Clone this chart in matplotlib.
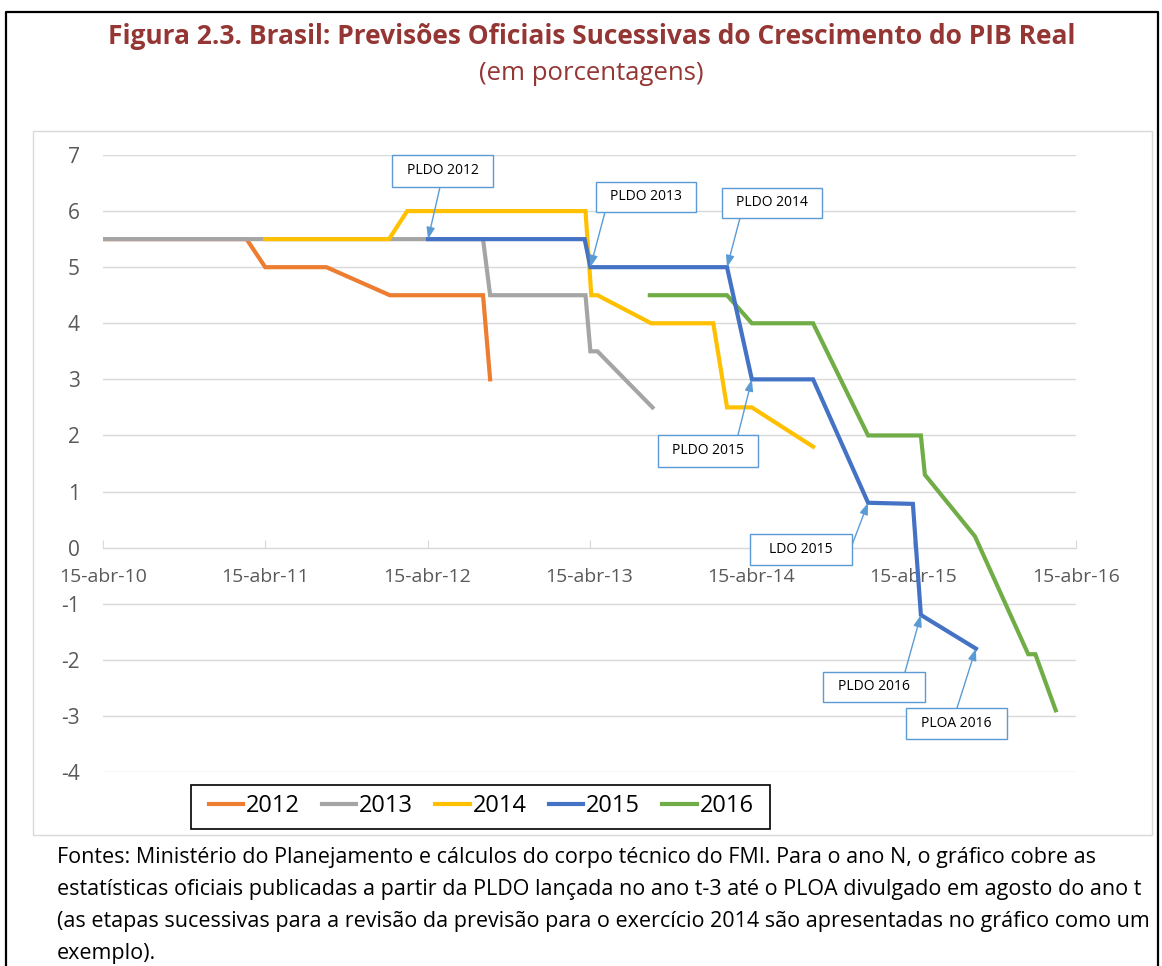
import numpy as np
import pandas as pd
import matplotlib
matplotlib.use('Agg')
import matplotlib.pyplot as plt
from matplotlib.patches import Rectangle
from matplotlib.lines import Line2D

plt.rcParams['font.family'] = ['Open Sans', 'DejaVu Sans']

W, H = 1162, 966

# successive official forecasts, one series per target year
d2012 = ['2010-04-15', '2011-03-04', '2011-04-15', '2011-08-31', '2012-01-21', '2012-08-18', '2012-09-03']
v2012 = [5.5, 5.5, 5.0, 5.0, 4.5, 4.5, 3.0]

d2013 = ['2010-04-15', '2012-08-18', '2012-09-03', '2013-04-06', '2013-04-17', '2013-05-03', '2013-09-04']
v2013 = [5.5, 5.5, 4.5, 4.5, 3.5, 3.5, 2.5]

d2014 = ['2011-04-15', '2012-01-19', '2012-02-29', '2013-04-06', '2013-04-19', '2013-05-03',
         '2013-09-01', '2014-01-19', '2014-02-19', '2014-04-16', '2014-09-01']
v2014 = [5.5, 5.5, 6.0, 6.0, 4.5, 4.5, 4.0, 4.0, 2.5, 2.5, 1.8]

d2015 = ['2012-04-16', '2013-04-04', '2013-04-17', '2014-02-19', '2014-04-16', '2014-09-01',
         '2015-01-03', '2015-04-14', '2015-05-02', '2015-09-03']
v2015 = [5.5, 5.5, 5.0, 5.0, 3.0, 3.0, 0.8, 0.78, -1.2, -1.8]

d2016 = ['2013-08-29', '2014-02-19', '2014-04-16', '2014-09-01', '2015-01-03', '2015-05-02',
         '2015-05-11', '2015-09-01', '2015-12-30', '2016-01-15', '2016-03-01']
v2016 = [4.5, 4.5, 4.0, 4.0, 2.0, 2.0, 1.3, 0.2, -1.9, -1.9, -2.9]

series = ['2012', '2013', '2014', '2015', '2016']
colors = ['#ED7D31', '#A5A5A5', '#FFC000', '#4472C4', '#70AD47']
zorders = [3, 4, 5, 7, 6]

tick_dates = ['2010-04-15', '2011-04-15', '2012-04-15', '2013-04-15', '2014-04-15', '2015-04-15', '2016-04-15']
tick_labels = ['15-abr-10', '15-abr-11', '15-abr-12', '15-abr-13', '15-abr-14', '15-abr-15', '15-abr-16']

# callouts on the 2015 series: label, index of the point it marks
ann_labels = ['PLDO 2012', 'PLDO 2013', 'PLDO 2014', 'PLDO 2015', 'LDO 2015', 'PLDO 2016', 'PLOA 2016']
ann_idx = [0, 2, 3, 4, 6, 8, 9]
# box (x0, y0, x1, y1) and arrow start, in image pixels from top-left
ann_box = [(392, 155, 493, 187), (596, 182, 696, 212), (722, 188, 822, 218), (658, 435, 758, 467),
           (750, 534, 852, 565), (823, 672, 925, 702), (906, 708, 1007, 739)]
ann_from = [(440, 187), (605, 212), (740, 218), (738, 435), (852, 545), (905, 672), (957, 708)]

dates = [d2012, d2013, d2014, d2015, d2016]
vals = [v2012, v2013, v2014, v2015, v2016]


def fx(px):
    return px / W


def fy(py):
    return 1 - py / H


fig = plt.figure(figsize=(W / 100, H / 100), dpi=100)

# outer frame and chart area
fig.add_artist(Line2D([fx(6), fx(6), fx(1158), fx(1158)], [0, fy(12), fy(12), 0],
                      color='black', lw=1.6, transform=fig.transFigure))
fig.add_artist(Rectangle((fx(33), fy(835)), fx(1152) - fx(33), fy(131) - fy(835),
                         transform=fig.transFigure, fill=False, ec='#D9D9D9', lw=1))

fig.text(fx(592), fy(36), 'Figura 2.3. Brasil: Previsões Oficiais Sucessivas do Crescimento do PIB Real',
         ha='center', va='center', fontsize=19, fontweight='bold', color='#943634')
fig.text(fx(591), fy(73), '(em porcentagens)', ha='center', va='center', fontsize=18.5, color='#943634')

ax = fig.add_axes([fx(103.3), fy(772), fx(1075.7) - fx(103.3), fy(155) - fy(772)])
ax.set_facecolor('none')

handles = []
for name, d, v, c, z in zip(series, dates, vals, colors, zorders):
    h, = ax.plot(pd.to_datetime(d), v, color=c, lw=3, solid_joinstyle='miter', zorder=z, label=name)
    handles.append(h)

ax.set_xlim(pd.Timestamp(tick_dates[0]), pd.Timestamp(tick_dates[-1]))
ax.set_ylim(-4, 7)
ax.set_yticks(range(-4, 8))
ax.set_yticklabels([str(i) for i in range(-4, 8)])
ax.set_xticks(pd.to_datetime(tick_dates))
ax.set_xticklabels(tick_labels)

ax.grid(axis='y', color='#D9D9D9', lw=1)
ax.grid(axis='x', visible=False)
for s in ['top', 'right', 'left']:
    ax.spines[s].set_visible(False)
ax.spines['bottom'].set_position(('data', 0))
ax.spines['bottom'].set_color('#D9D9D9')
ax.tick_params(axis='x', direction='in', length=6, color='#D9D9D9', pad=15,
               labelsize=14, labelcolor='#595959')
ax.tick_params(axis='y', length=0, pad=17, labelsize=15, labelcolor='#595959')

# callout boxes with arrows
for lab, i, box, src in zip(ann_labels, ann_idx, ann_box, ann_from):
    x0, y0, x1, y1 = box
    fig.add_artist(Rectangle((fx(x0), fy(y1)), fx(x1) - fx(x0), fy(y0) - fy(y1),
                             transform=fig.transFigure, fc='white', ec='#5B9BD5', lw=1, zorder=10))
    fig.text(fx((x0 + x1) / 2), fy((y0 + y1) / 2), lab, ha='center', va='center',
             fontsize=10, color='black', zorder=11)
    ax.annotate('', xy=(pd.Timestamp(d2015[i]), v2015[i]), xycoords='data',
                xytext=(fx(src[0]), fy(src[1])), textcoords='figure fraction',
                arrowprops=dict(arrowstyle='-|>,head_length=0.7,head_width=0.25', color='#5B9BD5',
                                lw=1, shrinkA=0, shrinkB=0), zorder=12, annotation_clip=False)

# legend: frame drawn separately so its padding matches
fig.add_artist(Rectangle((fx(191), fy(829)), fx(770) - fx(191), fy(785) - fy(829),
                         transform=fig.transFigure, fc='white', ec='black', lw=1.2, zorder=8))
leg = fig.legend(handles=handles, loc='center', bbox_to_anchor=(fx(481), fy(806)), ncol=5,
                 fontsize=17, frameon=False, handlelength=1.45, handletextpad=0.12,
                 columnspacing=0.95, borderpad=0.2)
leg.set_zorder(9)

note = ['Fontes: Ministério do Planejamento e cálculos do corpo técnico do FMI. Para o ano N, o gráfico cobre as',
        'estatísticas oficiais publicadas a partir da PLDO lançada no ano t-3 até o PLOA divulgado em agosto do ano t',
        '(as etapas sucessivas para a revisão da previsão para o exercício 2014 são apresentadas no gráfico como um',
        'exemplo).']
note_texts = [fig.text(fx(57), fy(858 + 31.7 * k), line, ha='left', va='center', fontsize=16, color='black')
              for k, line in enumerate(note)]

# shrink the note so its longest line ends where the reference one does
renderer = fig.canvas.get_renderer()
widest = max(t.get_window_extent(renderer).width for t in note_texts)
for t in note_texts:
    t.set_fontsize(16 * (1143 - 57) / widest)

fig.savefig('out.png', dpi=100)
